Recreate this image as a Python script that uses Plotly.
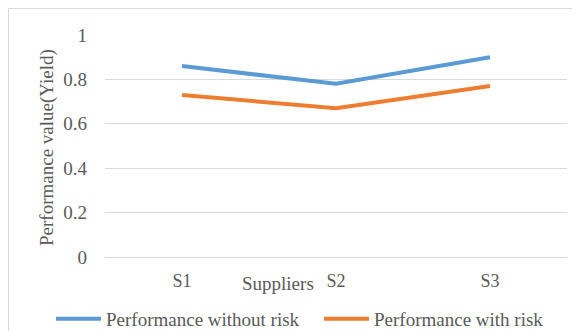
import plotly.graph_objects as go

categories = ["S1", "S2", "S3"]
without_risk = [0.86, 0.78, 0.90]
with_risk = [0.73, 0.67, 0.77]
series_names = ["Performance without risk", "Performance with risk"]
colors = ["#5b9bd5", "#ed7d31"]

# The page body adds an 8px offset; work in figure pixels (screen - 8).
OFF = 8
W, H = 580 - OFF, 331 - OFF
L, T = 105 - OFF, 35 - OFF
R = W - (567 - OFF)
B = H - (257 - OFF)
pw = W - L - R
ph = H - T - B

def px_x(sx):
    return (sx - OFF - L) / pw

def px_y(sy):
    return (H - B - (sy - OFF)) / ph

fig = go.Figure()
for name, vals, c in zip(series_names, [without_risk, with_risk], colors):
    fig.add_trace(go.Scatter(x=categories, y=vals, name=name, mode="lines",
                             line=dict(color=c, width=4)))

FAM = "Liberation Serif"
GRAY = "#595959"
FS = 19

fig.update_layout(
    width=W, height=H,
    margin=dict(l=L, r=R, t=T, b=B, autoexpand=False),
    plot_bgcolor="white", paper_bgcolor="white",
    font=dict(family=FAM, color=GRAY, size=FS),
    showlegend=True,
    legend=dict(orientation="h", x=px_x(51), y=px_y(319), xanchor="left", yanchor="middle",
                font=dict(family=FAM, color=GRAY, size=FS), bgcolor="rgba(0,0,0,0)",
                itemwidth=45, entrywidth=208, entrywidthmode="pixels"),
    xaxis=dict(showgrid=False, showline=False, ticks="", zeroline=False, range=[-0.5, 2.5],
               automargin=False,
               tickfont=dict(family=FAM, color=GRAY, size=18), ticklabelstandoff=11),
    yaxis=dict(range=[0, 1], tickvals=[0, 0.2, 0.4, 0.6, 0.8, 1],
               ticktext=["0", "0.2", "0.4", "0.6", "0.8", "1"],
               showgrid=True, gridcolor="#d9d9d9", gridwidth=1,
               zeroline=True, zerolinecolor="#d9d9d9", zerolinewidth=1,
               showline=False, ticks="", tickfont=dict(family=FAM, color=GRAY, size=FS),
               ticklabelstandoff=17, automargin=False),
    shapes=[dict(type="rect", xref="paper", yref="paper",
                 x0=px_x(8.5), x1=px_x(577), y0=px_y(345), y1=px_y(8.5),
                 line=dict(color="#d9d9d9", width=1), fillcolor="rgba(0,0,0,0)", layer="below")],
    annotations=[
        dict(text="Suppliers", xref="paper", yref="paper",
             x=px_x(278), y=px_y(283), showarrow=False,
             font=dict(family=FAM, color=GRAY, size=FS), xanchor="center", yanchor="middle"),
        dict(text="Performance value(Yield)", xref="paper", yref="paper",
             x=px_x(47), y=px_y(148), showarrow=False, textangle=-90,
             font=dict(family=FAM, color=GRAY, size=FS), xanchor="center", yanchor="middle"),
    ],
)

fig.write_html("out.html")
